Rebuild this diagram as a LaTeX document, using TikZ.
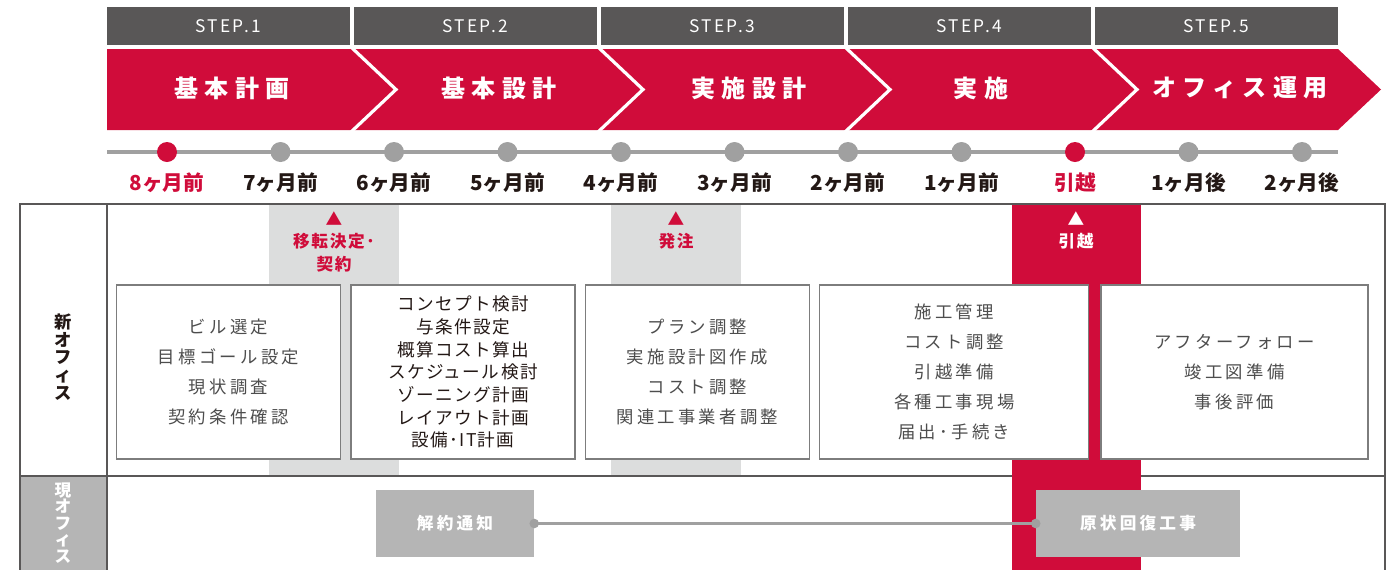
\documentclass[tikz,border=0pt]{standalone}
\usepackage{fontspec}
\setmainfont{Noto Sans CJK JP}
\newfontfamily\jpstep[LetterSpace=14]{Noto Sans CJK JP}
\newfontfamily\jptitle[LetterSpace=26]{Noto Sans CJK JP}
\newfontfamily\jpbox[LetterSpace=19]{Noto Sans CJK JP}
\newfontfamily\jptight[LetterSpace=8]{Noto Sans CJK JP}
\newfontfamily\jpmark[LetterSpace=10]{Noto Sans CJK JP}
\usetikzlibrary{positioning}
\definecolor{brand}{HTML}{D00C3A}
\definecolor{stepgray}{HTML}{595757}
\definecolor{linegray}{HTML}{A0A0A0}
\definecolor{pale}{HTML}{DCDDDD}
\definecolor{mid}{HTML}{B5B5B5}
\definecolor{ink}{HTML}{231815}
\definecolor{taskgray}{HTML}{4D4D4D}
\definecolor{boxgray}{HTML}{7D7D7D}

\begin{document}
\begin{tikzpicture}[x=0.75pt, y=-0.75pt,
  stepbar/.style={fill=stepgray, text=white, minimum width=182.25pt, minimum height=28.5pt, inner sep=0pt, font=\jpstep\fontsize{13}{14}\selectfont},
  phase/.style={text=white, inner sep=0pt, font=\jptitle\bfseries\fontsize{18}{20}\selectfont},
  tick/.style={circle, fill=linegray, minimum size=15pt, inner sep=0pt},
  month/.style={inner sep=0pt, font=\bfseries\fontsize{15.5}{17}\selectfont},
  milestone/.style={align=center, inner sep=0pt, font=\jpmark\bfseries\fontsize{12.5}{17}\selectfont},
  task/.style={draw=boxgray, fill=white, line width=1pt, minimum width=168pt, minimum height=130.5pt, inner sep=0pt, align=center, text=taskgray, font=\jpbox\fontsize{13}{22.5}\selectfont},
  oldtask/.style={fill=mid, text=white, minimum height=50pt, inner sep=0pt, font=\jpbox\bfseries\fontsize{12.5}{14}\selectfont},
  side/.style={align=center, inner sep=0pt, font=\bfseries\fontsize{13}{13.2}\selectfont},
  tableline/.style={draw=stepgray, line width=1.4pt},
  link/.style={draw=linegray, line width=2.2pt}]
\useasboundingbox (0,0) rectangle (1397,569);

% step headers and phase arrows
\foreach \i in {1,...,5}
  \node[stepbar] (step\i) at ({228+247*(\i-1)},26) {STEP.\i};
\fill[brand] (107,49) -- (1338,49) -- (1381,89.5) -- (1338,130) -- (107,130) -- cycle;
\foreach \b in {351,598,845,1092}
  \draw[white, line width=2.4pt] (\b,47) -- (\b+45,89.5) -- (\b,132);
\foreach \i/\t/\x in {1/基本計画/232, 2/基本設計/499, 3/実施設計/749, 4/実施/981, 5/オフィス運用/1240}
  \node[phase] (ph\i) at (\x,88) {\t};

% timeline
\coordinate (tlstart) at (107,152);
\coordinate (tlend) at (1338,152);
\draw[linegray, line width=3pt] (tlstart) -- (tlend);
\foreach \i/\lab/\dc/\tc in {0/8ヶ月前/brand/brand, 1/7ヶ月前/linegray/ink, 2/6ヶ月前/linegray/ink,
    3/5ヶ月前/linegray/ink, 4/4ヶ月前/linegray/ink, 5/3ヶ月前/linegray/ink, 6/2ヶ月前/linegray/ink,
    7/1ヶ月前/linegray/ink, 8/引越/brand/brand, 9/1ヶ月後/linegray/ink, 10/2ヶ月後/linegray/ink}{
  \node[tick, fill=\dc] (d\i) at ({167+113.5*\i},152) {};
  \node[month, text=\tc] (m\i) at ({167+113.5*\i},183) {\lab};
}

% table
\fill[pale] (269,205) rectangle (399,476);
\fill[pale] (611,205) rectangle (741,476);
\fill[mid] (20,476) rectangle (107,575);
\draw[tableline] (20,575) -- (20,204) -- (1385,204) -- (1385,575);
\draw[tableline] (20,476) -- (1385,476);
\draw[tableline] (107,204) -- (107,575);
\fill[brand] (1012,205) rectangle (1141,575);

\node[side, text=ink] (newoffice) at (63,357) {新\\オ\\フ\\ィ\\ス};
\node[side, text=white, font=\bfseries\fontsize{12.5}{12.4}\selectfont] (curoffice) at (63,523) {現\\オ\\フ\\ィ\\ス};

% milestones
\node[milestone, text=brand, anchor=north] (decide) at (334,211) {▲\\移転決定･\\契約};
\node[milestone, text=brand, anchor=north] (order) at (676,211) {▲\\発注};
\node[milestone, text=white, anchor=north] (move) at (1076,211) {▲\\引越};

% tasks of the new office
\node[task] (b1) at (228.5,372) {ビル選定\\目標ゴール設定\\現状調査\\契約条件確認};
\node[task, text=ink, font=\jptight\fontsize{13.2}{17}\selectfont, right=6.8pt of b1] (b2)
  {コンセプト検討\\与条件設定\\概算コスト算出\\スケジュール検討\\ゾーニング計画\\レイアウト計画\\設備･IT計画};
\node[task, right=6.8pt of b2] (b3) {プラン調整\\実施設計図作成\\コスト調整\\関連工事業者調整};
\node[task, minimum width=201.8pt, right=6.8pt of b3] (b4) {施工管理\\コスト調整\\引越準備\\各種工事現場\\届出･手続き};
\node[task, minimum width=200.3pt, right=8.2pt of b4] (b5) {アフターフォロー\\竣工図準備\\事後評価};

% current office
\node[oldtask, minimum width=118.5pt] (notice) at (455,523.5) {解約通知};
\node[oldtask, minimum width=153pt] (restore) at (1138,523.5) {原状回復工事};
\draw[link] (notice.east) -- (restore.west);
\fill[linegray] (notice.east) circle (3.6pt) (restore.west) circle (3.6pt);
\end{tikzpicture}
\end{document}
